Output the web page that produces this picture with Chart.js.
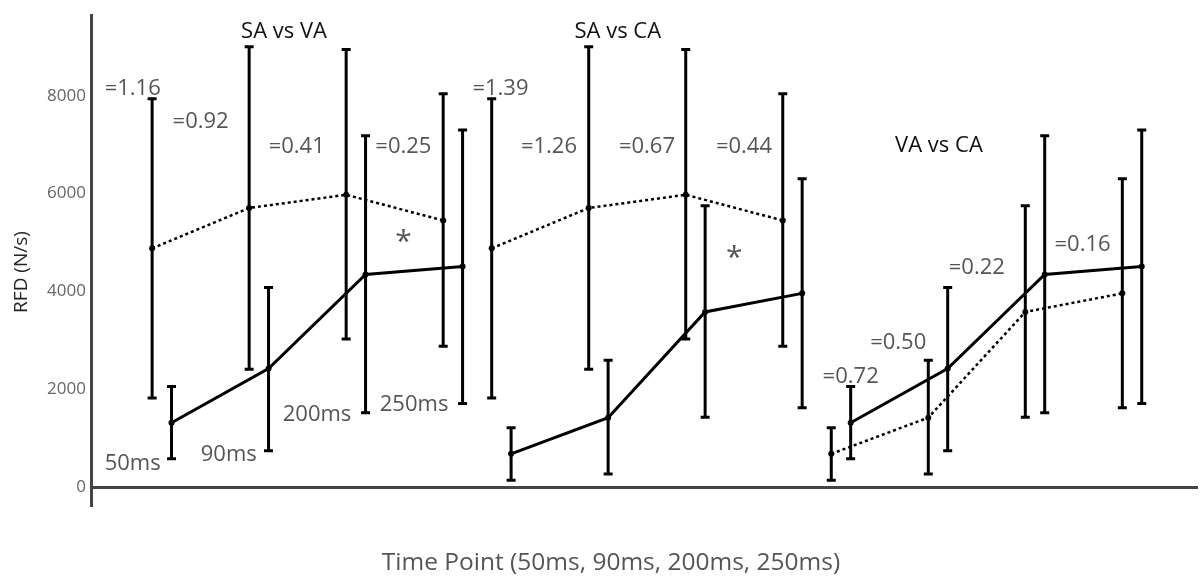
<!DOCTYPE html>
<html>
<head>
<meta charset="utf-8">
<script src="https://cdn.jsdelivr.net/npm/chart.js@4.4.0/dist/chart.umd.min.js"></script>
<style>
  html, body { margin: 0; padding: 0; background: #fff; }
</style>
</head>
<body>
<canvas id="rfdChart" width="1202" height="584"></canvas>
<script>
// data (RFD in N/s)
const timePoints = ['50ms', '90ms', '200ms', '250ms'];
const comparisons = ['SA vs VA', 'SA vs CA', 'VA vs CA'];

const saMean = [4880, 5705, 5975, 5450];
const saUpper = [7940, 9000, 8945, 8040];
const saLower = [1820, 2410, 3030, 2880];

const vaMean = [1315, 2425, 4345, 4510];
const vaUpper = [2055, 4080, 7180, 7300];
const vaLower = [580, 745, 1520, 1710];

const caMean = [680, 1420, 3580, 3960];
const caUpper = [1215, 2595, 5750, 6300];
const caLower = [140, 270, 1430, 1625];

const effectSizes = [
  ['1.16', '0.92', '0.41', '0.25'],
  ['1.39', '1.26', '0.67', '0.44'],
  ['0.72', '0.50', '0.22', '0.16'],
];

const yTicks = [0, 2000, 4000, 6000, 8000];

// which series is dotted / solid in each comparison
const pairs = [
  { dotted: [saMean, saUpper, saLower], solid: [vaMean, vaUpper, vaLower] },
  { dotted: [saMean, saUpper, saLower], solid: [caMean, caUpper, caLower] },
  { dotted: [caMean, caUpper, caLower], solid: [vaMean, vaUpper, vaLower] },
];

const GROUP_GAP = 3.5;
const SHIFT = 0.2;

const datasets = [];
pairs.forEach((p, g) => {
  [['dotted', 0], ['solid', SHIFT]].forEach(([kind, shift]) => {
    const [mean, hi, lo] = p[kind];
    datasets.push({
      label: comparisons[g] + ' ' + kind,
      data: mean.map((v, i) => ({ x: g * GROUP_GAP + i + shift, y: v })),
      hi: hi,
      lo: lo,
      borderColor: '#000',
      borderWidth: kind === 'dotted' ? 2.5 : 3,
      borderDash: kind === 'dotted' ? [3, 3] : [],
      pointRadius: 3,
      pointBackgroundColor: '#000',
      pointBorderWidth: 0,
      tension: 0,
      fill: false,
    });
  });
});

// text positions in data units (x: time slot, y: N/s)
const effectSpots = [
  [[-0.2, 8150], [0.5, 7460], [1.49, 6960], [2.59, 6960]],
  [[3.59, 8150], [4.09, 6960], [5.1, 6960], [6.1, 6960]],
  [[7.2, 2260], [7.69, 2960], [8.5, 4480], [9.59, 4960]],
];
const titleSpots = [[1.36, 9300], [4.8, 9300], [8.11, 6980]];
const starSpots = [[2.59, 5010], [6.0, 4680]];
const timeSpots = [[-0.2, 470], [0.79, 670], [1.7, 1475], [2.7, 1680]];

const FONT = '"Open Sans", "Noto Sans", sans-serif';

const errorBars = {
  id: 'errorBars',
  afterDatasetsDraw(chart) {
    const { ctx, scales: { x, y } } = chart;
    ctx.save();
    ctx.strokeStyle = '#000';
    ctx.lineWidth = 3;
    ctx.setLineDash([]);
    chart.data.datasets.forEach(ds => {
      ds.data.forEach((p, i) => {
        const px = x.getPixelForValue(p.x);
        const top = y.getPixelForValue(ds.hi[i]);
        const bot = y.getPixelForValue(ds.lo[i]);
        ctx.beginPath();
        ctx.moveTo(px, top); ctx.lineTo(px, bot);
        ctx.moveTo(px - 4.5, top); ctx.lineTo(px + 4.5, top);
        ctx.moveTo(px - 4.5, bot); ctx.lineTo(px + 4.5, bot);
        ctx.stroke();
      });
    });
    ctx.restore();
  }
};

const labels = {
  id: 'labels',
  afterDraw(chart) {
    const { ctx, scales: { x, y } } = chart;
    const put = (txt, spot, size, color) => {
      ctx.font = size + 'px ' + FONT;
      ctx.fillStyle = color;
      ctx.fillText(txt, x.getPixelForValue(spot[0]), y.getPixelForValue(spot[1]));
    };
    ctx.save();
    ctx.textAlign = 'center';
    ctx.textBaseline = 'middle';
    effectSizes.forEach((row, g) => row.forEach((v, i) => put('=' + v, effectSpots[g][i], 22, '#555')));
    comparisons.forEach((t, g) => put(t, titleSpots[g], 22, '#111'));
    starSpots.forEach(s => put('*', s, 30, '#555'));
    timePoints.forEach((t, i) => put(t, timeSpots[i], 22, '#555'));

    // axis titles
    ctx.font = '24.5px ' + FONT;
    ctx.fillStyle = '#555';
    ctx.fillText('Time Point (' + timePoints.join(', ') + ')', 611, 563);
    ctx.translate(22, 272);
    ctx.rotate(-Math.PI / 2);
    ctx.font = '19px ' + FONT;
    ctx.fillStyle = '#222';
    ctx.fillText('RFD (N/s)', 0, 0);
    ctx.restore();
  }
};

const config = {
  type: 'line',
  data: { datasets },
  options: {
    responsive: false,
    animation: false,
    layout: { padding: { top: 8, bottom: 79, left: 0, right: 0 } },
    plugins: { legend: { display: false }, tooltip: { enabled: false } },
    scales: {
      x: {
        type: 'linear',
        min: -0.63,
        max: 10.78,
        display: false,
      },
      y: {
        min: -365,
        max: 9645,
        afterBuildTicks: s => { s.ticks = yTicks.map(v => ({ value: v })); },
        afterFit: s => { s.width = 91; },
        grid: {
          drawTicks: false,
          color: c => (c.tick && c.tick.value === 0 ? '#444' : 'rgba(0,0,0,0)'),
          lineWidth: 3,
        },
        border: { display: true, color: '#444', width: 3 },
        ticks: {
          padding: 5,
          color: '#666',
          font: { family: FONT, size: 17 },
          callback: value => String(value),
        },
      },
    },
  },
  plugins: [errorBars, labels],
};

const myChart = new Chart(document.getElementById('rfdChart').getContext('2d'), config);
</script>
</body>
</html>
